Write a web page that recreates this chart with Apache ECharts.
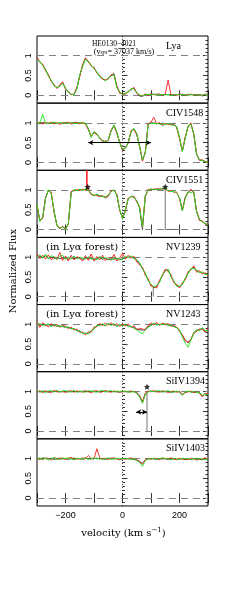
<!DOCTYPE html>
<html><head><meta charset="utf-8">
<script src="https://cdn.jsdelivr.net/npm/echarts@6/dist/echarts.min.js"></script>
<style>html,body{margin:0;padding:0;background:#fff}#c{width:245px;height:611px}</style>
</head><body><div id="c"></div>
<script>
// velocity grid (km/s)
const velocity = [-300,-290,-280,-270,-260,-250,-240,-230,-220,-210,
  -200,-190,-180,-170,-160,-150,-140,-130,-120,-110,
  -100,-90,-80,-70,-60,-50,-40,-30,-20,-10,
  0,10,20,30,40,50,60,70,80,90,
  100,110,120,130,140,150,160,170,180,190,
  200,210,220,230,240,250,260,270,280,290,
  300];

const panelLabels = ['Lya','CIV1548','CIV1551','NV1239','NV1243','SiIV1394','SiIV1403'];
const xTickLabels = [-200, 0, 200];
const yTickLabels = [0, 0.5, 1];
const yMinorTicks = [-0.1,0.1,0.2,0.3,0.4,0.6,0.7,0.8,0.9,1.1,1.2,1.3,1.4];

// Lya
const lyaBlack = [0.93,0.85,0.77,0.64,0.50,0.37,0.25,0.19,0.24,0.32,
  0.17,0.08,0.02,0.02,0.18,0.50,0.75,0.93,0.84,0.76,
  0.69,0.58,0.48,0.42,0.38,0.43,0.50,0.55,0.22,0.07,
  0.03,0.04,0.08,0.16,0.18,0.06,-0.02,-0.03,0.02,0.01,
  0.03,0.02,0.01,0.03,0.00,0.02,0.01,0.02,0.00,0.01,
  0.03,0.01,-0.01,0.02,0.01,0.02,0.00,0.02,-0.02,0.01,
  0.02];
const lyaRed = [0.96,0.83,0.79,0.62,0.52,0.35,0.27,0.17,0.26,0.34,
  0.15,0.09,0.01,0.03,0.20,0.47,0.78,0.95,0.86,0.74,
  0.71,0.56,0.50,0.40,0.39,0.41,0.52,0.53,0.25,0.05,
  0.04,0.02,0.10,0.14,0.20,0.05,0.00,-0.01,0.03,0.00,
  0.04,0.01,0.03,0.02,0.01,0.03,0.38,0.01,0.02,0.00,
  0.02,0.03,0.00,0.01,0.03,0.00,0.02,0.01,0.00,0.03,
  0.01];
const lyaGreen = [0.90,0.86,0.75,0.66,0.48,0.38,0.23,0.20,0.22,0.30,
  0.18,0.07,0.03,0.01,0.16,0.52,0.73,0.92,0.85,0.77,
  0.67,0.59,0.46,0.43,0.36,0.44,0.48,0.52,0.20,0.08,
  0.02,0.05,0.07,0.17,0.16,0.07,0.01,-0.02,0.01,0.02,
  0.02,0.03,0.00,0.02,0.01,0.01,0.02,0.00,0.01,0.02,
  0.01,0.02,0.01,0.00,0.02,0.01,0.01,0.00,0.01,0.02,
  0.00];

// CIV1548
const civ1548Black = [1.00,0.98,1.01,1.00,0.99,1.00,1.01,0.99,1.00,0.98,
  1.01,1.00,0.99,1.01,1.00,0.99,1.00,0.98,0.85,0.65,
  0.77,0.72,0.61,0.55,0.52,0.56,0.80,0.94,0.76,0.50,
  0.32,0.36,0.50,0.78,0.85,0.72,0.40,0.05,0.25,0.97,
  1.00,1.00,0.98,0.99,0.95,0.97,0.98,0.96,0.95,0.90,
  0.62,0.28,0.62,0.92,0.98,0.72,0.20,0.06,0.05,0.02,
  0.01];
const civ1548Red = [0.99,1.02,0.97,1.01,0.98,1.02,0.97,1.00,0.96,1.01,
  0.99,1.02,0.97,1.00,1.02,0.98,1.01,0.97,0.83,0.67,
  0.75,0.70,0.63,0.53,0.54,0.55,0.82,0.92,0.74,0.52,
  0.30,0.38,0.48,0.80,0.83,0.70,0.42,0.03,0.27,0.98,
  1.02,1.14,0.97,1.01,0.93,0.98,0.97,0.95,0.97,0.88,
  0.60,0.30,0.64,0.90,1.00,0.70,0.22,0.05,0.07,0.01,
  0.02];
const civ1548Green = [1.01,0.99,1.22,0.98,1.00,0.99,1.02,0.98,1.01,0.99,
  1.00,0.99,1.01,0.98,0.99,1.01,0.99,1.00,0.86,0.63,
  0.78,0.73,0.60,0.56,0.51,0.57,0.79,0.95,0.77,0.49,
  0.33,0.35,0.51,0.77,0.86,0.73,0.39,0.06,0.24,0.96,
  0.99,0.98,0.99,0.97,0.96,0.96,0.99,0.95,0.94,0.91,
  0.63,0.27,0.61,0.93,0.97,0.73,0.19,0.07,0.04,0.03,
  0.00];

// CIV1551
const civ1551Black = [0.62,0.22,0.30,0.80,1.00,0.92,0.45,0.10,0.03,0.07,
  0.01,0.15,0.95,1.00,0.99,1.01,1.00,1.02,1.00,0.90,
  0.86,0.88,0.85,0.84,0.82,0.86,0.97,1.00,0.88,0.50,
  0.28,0.48,0.78,0.84,0.82,0.72,0.55,0.00,0.85,1.00,
  1.02,1.01,1.03,1.02,1.04,1.03,null,null,null,null,
  0.80,0.48,0.80,0.95,1.00,0.95,0.45,0.25,0.20,0.15,
  0.12];
const civ1551Red = [0.60,0.24,0.28,0.82,0.98,0.94,0.43,0.12,0.02,0.08,
  0.02,0.13,0.97,0.98,1.01,0.99,1.02,1.00,1.03,0.88,
  0.87,0.86,0.83,0.86,0.80,0.84,0.98,0.99,0.90,0.48,
  0.30,0.46,0.80,0.83,0.84,0.70,0.57,0.05,0.83,1.02,
  1.00,1.03,1.01,1.04,1.02,1.05,0.96,0.99,0.94,0.95,
  0.78,0.50,0.82,0.93,1.02,0.93,0.47,0.23,0.22,0.13,
  0.14];
const civ1551Green = [0.64,0.20,0.32,0.78,1.01,0.90,0.47,0.09,0.04,0.06,
  0.00,0.16,0.93,1.01,0.98,1.02,0.99,1.03,0.99,0.91,
  0.85,0.89,0.86,0.83,0.83,0.87,0.96,1.01,0.87,0.51,
  0.27,0.49,0.77,0.85,0.81,0.73,0.54,0.06,0.86,0.99,
  1.03,1.00,1.02,1.01,1.05,1.02,0.99,0.96,0.97,0.92,
  0.81,0.47,0.79,0.96,0.93,0.96,0.44,0.26,0.19,0.16,
  0.11];

// NV1239
const nv1239Black = [1.04,1.02,1.00,1.03,0.98,1.00,0.97,0.99,0.96,0.98,
  0.97,0.95,0.98,0.96,0.99,0.97,0.95,0.98,0.96,0.97,
  0.94,0.96,0.99,0.95,0.97,0.94,0.96,0.95,0.97,0.93,
  0.96,0.98,1.00,1.01,0.98,0.92,0.84,0.72,0.58,0.42,
  0.30,0.22,0.26,0.38,0.55,0.66,0.68,0.52,0.38,0.28,
  0.25,0.32,0.45,0.60,0.70,0.74,0.66,0.62,0.60,0.58,
  0.55];
const nv1239Red = [1.08,0.96,1.05,0.95,1.06,0.93,1.02,0.94,1.12,0.92,
  1.03,0.90,1.05,0.93,1.01,0.98,0.90,1.04,0.92,1.08,
  0.90,1.02,0.93,1.05,0.91,0.99,0.92,1.07,0.90,0.98,
  1.10,0.95,1.05,0.97,1.02,0.88,0.80,0.75,0.54,0.45,
  0.27,0.25,0.22,0.42,0.52,0.70,0.64,0.56,0.35,0.31,
  0.22,0.35,0.42,0.63,0.68,0.78,0.62,0.66,0.57,0.61,
  0.52];
const nv1239Green = [1.00,1.06,0.97,1.08,0.95,1.04,1.00,0.95,1.02,1.05,
  0.94,1.00,0.96,1.03,0.95,1.00,0.99,0.94,1.01,0.95,
  0.98,0.93,1.02,0.97,0.99,0.96,0.93,0.99,0.94,0.97,
  0.93,1.03,0.98,1.04,0.96,0.94,0.86,0.70,0.60,0.40,
  0.32,0.24,0.28,0.36,0.57,0.64,0.70,0.50,0.40,0.26,
  0.27,0.30,0.47,0.58,0.72,0.71,0.68,0.60,0.63,0.56,
  0.57];

// NV1243
const nv1243Black = [1.00,0.98,1.00,0.97,0.99,0.96,0.98,0.95,0.96,0.94,
  0.93,0.92,0.90,0.88,0.85,0.82,0.78,0.76,0.78,0.82,
  0.90,0.96,0.98,1.00,0.97,1.01,0.99,1.00,0.96,0.98,
  0.97,0.99,0.96,0.94,0.92,0.88,0.86,0.85,0.88,0.94,
  0.98,1.01,1.00,0.99,1.01,1.00,0.98,0.97,0.95,0.92,
  0.85,0.72,0.60,0.53,0.62,0.76,0.84,0.86,0.90,0.82,
  0.86];
const nv1243Red = [1.06,0.92,1.04,0.99,0.93,1.02,0.95,1.00,0.92,0.98,
  0.95,0.89,0.93,0.86,0.88,0.80,0.80,0.73,0.81,0.80,
  0.93,0.94,1.02,0.97,1.03,0.98,1.04,0.97,1.02,0.95,
  1.00,0.96,1.01,0.92,0.96,0.86,0.90,0.88,0.85,0.97,
  1.04,0.98,1.05,0.97,1.03,0.99,1.02,0.95,0.97,0.93,
  0.82,0.74,0.58,0.55,0.60,0.80,0.82,0.88,0.87,0.80,
  0.90];
const nv1243Green = [0.99,1.02,0.97,1.00,1.01,0.94,0.99,0.97,0.94,0.96,
  0.91,0.94,0.88,0.90,0.83,0.84,0.76,0.78,0.75,0.84,
  0.88,0.98,0.96,1.02,0.95,1.03,0.97,1.02,0.94,1.00,
  0.95,1.01,0.94,0.95,0.90,0.86,0.80,0.76,0.86,0.92,
  0.97,1.03,0.98,1.00,0.99,1.02,0.97,0.98,0.94,0.91,
  0.86,0.68,0.52,0.42,0.60,0.78,0.87,0.83,0.92,0.84,
  0.85];

// SiIV1394
const siiv1394Black = [1.00,0.99,1.01,1.00,0.98,1.00,1.01,0.99,1.00,0.99,
  1.00,1.01,0.99,1.00,1.00,0.99,1.01,1.00,0.99,1.00,
  1.01,1.00,0.99,1.00,1.01,0.99,1.00,1.00,0.99,0.98,
  1.00,0.99,1.00,1.01,0.99,0.97,0.90,0.72,0.94,1.00,
  1.01,1.00,0.99,1.00,1.01,0.99,1.00,0.98,0.99,1.00,
  0.99,0.92,0.98,1.00,0.99,0.98,0.99,0.96,0.88,0.95,
  0.93];
const siiv1394Red = [0.98,1.02,0.97,1.01,1.00,0.97,1.02,1.00,0.98,1.01,
  0.97,1.00,1.02,0.98,1.01,1.00,0.98,1.02,1.00,0.97,
  1.00,1.02,0.98,0.99,1.02,1.00,0.98,1.01,1.00,0.99,
  0.99,1.01,0.98,1.00,1.00,0.96,0.88,0.74,0.96,1.01,
  0.99,1.02,1.00,0.98,1.00,1.01,0.97,1.00,1.01,0.98,
  1.00,0.93,0.97,0.99,1.01,0.97,0.98,0.97,0.86,0.94,
  0.95];
const siiv1394Green = [1.02,0.98,1.00,0.97,1.02,1.01,0.98,1.03,0.99,1.01,
  1.02,0.98,1.00,1.03,0.97,1.01,0.99,0.98,1.02,1.01,
  0.99,0.98,1.01,1.03,0.98,1.01,1.02,0.98,1.01,1.00,
  1.01,1.00,0.99,0.98,1.00,0.95,0.86,0.70,0.93,0.99,
  1.00,0.99,1.02,1.01,0.98,1.00,1.02,0.99,0.98,1.01,
  0.98,0.90,0.99,1.01,0.98,1.00,0.97,0.98,0.90,0.93,
  0.92];

// SiIV1403
const siiv1403Black = [1.00,0.98,1.02,1.00,0.99,1.01,0.98,1.00,1.01,0.99,
  1.00,0.98,1.00,1.01,0.99,1.00,0.98,1.00,1.00,0.99,
  1.00,1.01,0.99,1.00,0.98,1.00,1.01,0.99,1.00,0.97,
  0.99,1.00,1.00,0.99,0.98,0.96,0.92,0.88,0.96,0.99,
  1.00,0.99,0.98,1.00,0.99,1.00,0.98,0.99,1.00,0.98,
  0.99,1.00,0.97,0.99,0.98,1.00,0.99,0.98,0.97,0.99,
  0.98];
const siiv1403Red = [0.98,1.01,0.97,1.02,1.00,0.96,1.03,0.98,1.00,1.02,
  0.97,1.01,1.03,0.98,1.00,0.99,1.02,1.00,1.08,1.01,
  0.99,1.25,1.02,0.99,1.01,0.98,1.00,1.02,0.99,0.98,
  1.01,0.98,1.00,1.02,0.99,0.97,0.93,0.86,0.97,1.01,
  0.98,1.01,1.00,0.97,1.02,0.99,1.00,1.02,0.98,0.97,
  1.01,0.98,1.00,0.97,1.01,0.99,0.96,1.00,0.98,1.02,
  0.99];
const siiv1403Green = [0.99,1.02,0.98,1.01,0.97,1.00,1.02,0.99,0.97,1.01,
  1.00,1.02,0.99,0.97,1.01,1.00,0.99,1.02,0.98,1.00,
  1.02,0.99,1.01,0.98,1.00,1.02,0.98,1.00,1.01,0.99,
  1.00,1.01,0.99,0.98,1.00,0.95,0.90,0.80,0.95,1.00,
  0.99,1.01,0.98,1.00,1.02,0.99,1.01,0.97,1.00,0.99,
  0.98,1.01,0.99,1.00,0.97,1.01,0.98,1.00,0.99,0.97,
  1.00];

// narrow features (bad pixels) and annotations
const civ1551RedSpikeV = [-125, -125], civ1551RedSpikeF = [1.0, 1.5];
const civ1551BlackMaskV = [150, 150, 200], civ1551BlackMaskF = [1.03, 0, 0];
const nv1239BlackSpikeV = [108, 108], nv1239BlackSpikeF = [0.25, 0];
const siiv1394BlackSpikeV = [86, 86], siiv1394BlackSpikeF = [1.0, 0];
const starPanel = [2, 2, 5], starV = [-122, 150, 86], starF = [1.08, 1.08, 1.12];
const arrowPanel = [1, 5], arrowFromV = [-120, 48], arrowToV = [100, 86], arrowF = [0.5, 0.48];

const spectra = [
  [lyaBlack, lyaRed, lyaGreen],
  [civ1548Black, civ1548Red, civ1548Green],
  [civ1551Black, civ1551Red, civ1551Green],
  [nv1239Black, nv1239Red, nv1239Green],
  [nv1243Black, nv1243Red, nv1243Green],
  [siiv1394Black, siiv1394Red, siiv1394Green],
  [siiv1403Black, siiv1403Red, siiv1403Green]
];
const extraLines = [
  {panel: 2, v: civ1551RedSpikeV, f: civ1551RedSpikeF, color: 'red'},
  {panel: 2, v: civ1551BlackMaskV, f: civ1551BlackMaskF, color: 'black'},
  {panel: 3, v: nv1239BlackSpikeV, f: nv1239BlackSpikeF, color: 'black'},
  {panel: 5, v: siiv1394BlackSpikeV, f: siiv1394BlackSpikeF, color: 'black'}
];

const COL = {black: '#333333', red: '#ff1a1a', green: '#1ee61e'};
const N = 7, top0 = 36, ph = 67.14, left0 = 37, pw = 171;
const tickFont = 'Liberation Sans', serif = 'Liberation Serif', dserif = 'DejaVu Serif';

const grids = [], xAxes = [], yAxes = [], series = [];
const pairs = (vs, fs) => vs.map((v, j) => [v, fs[j]]);
const fmt = v => (v < 0 ? '\u2212' + Math.abs(v) : String(v));

for (let i = 0; i < N; i++) {
  grids.push({left: left0, top: top0 + i * ph, width: pw, height: ph,
    show: true, borderColor: '#000', borderWidth: 1, backgroundColor: 'rgba(0,0,0,0)'});
  ['bottom', 'top'].forEach(pos => {
    xAxes.push({type: 'value', gridIndex: i, position: pos, min: -300, max: 300, interval: 100,
      axisLine: {show: false}, splitLine: {show: false},
      axisTick: {show: true, inside: true, length: 5, lineStyle: {color: '#000', width: 0.8}},
      axisLabel: {show: pos === 'bottom' && i === N - 1, customValues: xTickLabels, formatter: fmt,
        fontFamily: tickFont, fontSize: 9, color: '#000', margin: 5}});
  });
  ['left', 'right'].forEach(pos => {
    yAxes.push({type: 'value', gridIndex: i, position: pos, min: -0.2, max: 1.5,
      axisLine: {show: false}, splitLine: {show: false},
      axisTick: {show: true, inside: true, length: 5, customValues: yTickLabels, lineStyle: {color: '#000', width: 0.8}},
      axisLabel: {show: false}});
    yAxes.push({type: 'value', gridIndex: i, position: pos, min: -0.2, max: 1.5,
      axisLine: {show: false}, splitLine: {show: false},
      axisTick: {show: true, inside: true, length: 2.5, customValues: yMinorTicks, lineStyle: {color: '#000', width: 0.8}},
      axisLabel: {show: false}});
  });
  const xi = 2 * i, yi = 4 * i;
  const names = ['black', 'red', 'green'];
  spectra[i].forEach((arr, k) => {
    const s = {type: 'line', xAxisIndex: xi, yAxisIndex: yi, data: pairs(velocity, arr),
      showSymbol: false, symbol: 'none', animation: false, silent: true, z: 3 + k,
      lineStyle: {color: COL[names[k]], width: 0.9}};
    if (k === 0) {
      s.markLine = {silent: true, symbol: 'none', animation: false, label: {show: false}, z: 1,
        data: [
          {yAxis: 0, lineStyle: {color: '#808080', width: 1, type: [7, 5]}},
          {yAxis: 1, lineStyle: {color: '#808080', width: 1, type: [7, 5]}},
          {xAxis: 0, lineStyle: {color: '#000', width: 0.8, type: [1, 2]}}
        ]};
    }
    series.push(s);
  });
}
extraLines.forEach(e => {
  series.push({type: 'line', xAxisIndex: 2 * e.panel, yAxisIndex: 4 * e.panel, data: pairs(e.v, e.f),
    showSymbol: false, symbol: 'none', animation: false, silent: true, z: e.color === 'black' ? 3 : 4,
    lineStyle: {color: e.color === 'black' ? '#666' : COL.red, width: e.color === 'black' ? 0.9 : 1.5}});
});
arrowPanel.forEach((p, j) => {
  series.push({type: 'line', xAxisIndex: 2 * p, yAxisIndex: 4 * p, data: [], animation: false, silent: true,
    markLine: {silent: true, animation: false, symbol: ['arrow', 'arrow'], symbolSize: [4, 5], label: {show: false}, z: 10,
      lineStyle: {color: '#000', width: 1.1, type: 'solid'},
      data: [[{coord: [arrowFromV[j], arrowF[j]]}, {coord: [arrowToV[j], arrowF[j]]}]]}});
});
const starPath = 'path://M0,-10L2.9,-4 9.5,-3.1 4.7,1.5 5.9,8.1 0,5 -5.9,8.1 -4.7,1.5 -9.5,-3.1 -2.9,-4Z';
starPanel.forEach((p, j) => {
  series.push({type: 'scatter', xAxisIndex: 2 * p, yAxisIndex: 4 * p, data: [[starV[j], starF[j]]],
    symbol: starPath, symbolSize: 6, itemStyle: {color: '#000'}, animation: false, silent: true, z: 12});
});

const graphics = [];
panelLabels.forEach((t, i) => {
  graphics.push({type: 'text', x: 166, y: top0 + i * ph + 10, z: 20,
    style: {text: t, font: '10px "' + serif + '"', fill: '#000', align: 'left', verticalAlign: 'middle'}});
});
[3, 4].forEach(i => {
  graphics.push({type: 'text', x: 46, y: top0 + i * ph + 9.5, z: 20,
    style: {text: '(in Ly\u03b1 forest)', font: '10px "' + dserif + '"', fill: '#000', align: 'left', verticalAlign: 'middle'}});
});
graphics.push({type: 'text', x: 114, y: 44, z: 20,
  style: {text: 'HE0130\u22124021', font: '7.5px "' + serif + '"', fill: '#000', align: 'center', verticalAlign: 'middle'}});
graphics.push({type: 'text', x: 124, y: 51.5, z: 20,
  style: {text: '{a|(v}{s|sys}{a|= 37037 km/s)}', align: 'center', verticalAlign: 'middle',
    rich: {a: {fontFamily: serif, fontSize: 8, fill: '#000'}, s: {fontFamily: serif, fontSize: 5.5, fill: '#000', verticalAlign: 'bottom', padding: [3, 0, 0, 0]}}}});
graphics.push({type: 'text', x: 13, y: 271, rotation: Math.PI / 2, z: 20,
  style: {text: 'Normalized Flux', font: '10px "' + dserif + '"', fill: '#000', align: 'center', verticalAlign: 'middle'}});
graphics.push({type: 'text', x: 123.5, y: 533, z: 20,
  style: {text: '{a|velocity (km s}{s|\u22121}{a|)}', align: 'center', verticalAlign: 'middle',
    rich: {a: {fontFamily: dserif, fontSize: 10, fill: '#000'}, s: {fontFamily: dserif, fontSize: 7, fill: '#000', verticalAlign: 'top', padding: [0, 0, 5, 0]}}}});

const chart = echarts.init(document.getElementById('c'), null, {renderer: 'canvas'});
chart.setOption({animation: false, backgroundColor: '#fff', grid: grids, xAxis: xAxes, yAxis: yAxes, series});
// rotated y tick labels placed through the axis scale
for (let i = 0; i < N; i++) {
  yTickLabels.forEach(val => {
    const py = chart.convertToPixel({yAxisIndex: 4 * i}, val);
    graphics.push({type: 'text', x: 28.5, y: py, rotation: Math.PI / 2, z: 20,
      style: {text: String(val), font: '9px "' + tickFont + '"', fill: '#000', align: 'center', verticalAlign: 'middle'}});
  });
}
chart.setOption({graphic: graphics});
</script></body></html>
